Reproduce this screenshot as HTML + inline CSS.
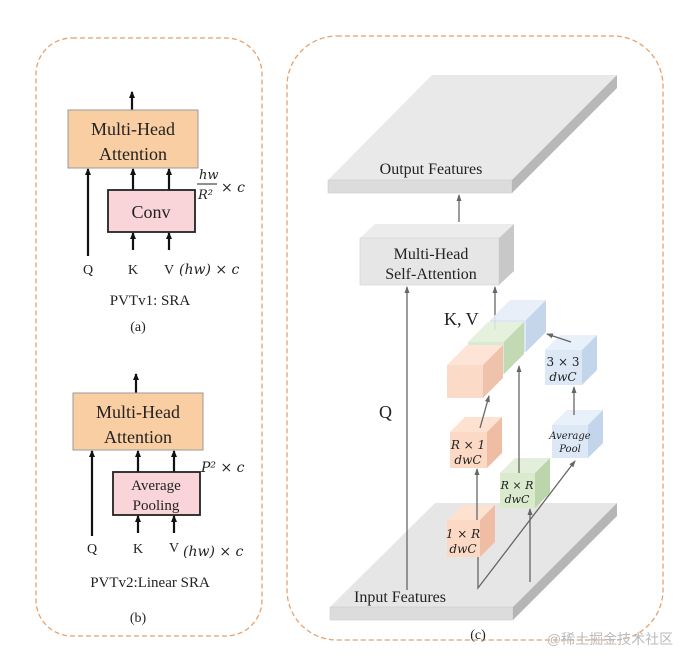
<!DOCTYPE html>
<html><head><meta charset="utf-8"><style>
html,body{margin:0;padding:0;background:#fff;}
svg{display:block;}
text{font-family:"Liberation Serif",serif;fill:#222;}
.m{font-family:"DejaVu Serif","Liberation Serif",serif;font-style:italic;}
</style></head><body>
<svg width="695" height="669" viewBox="0 0 695 669" xmlns="http://www.w3.org/2000/svg">
<defs>
<marker id="ab" markerWidth="7" markerHeight="6" refX="6" refY="3" orient="auto" markerUnits="userSpaceOnUse" viewBox="0 0 7 6"><path d="M0,0 L7,3 L0,6 Z" fill="#111"/></marker>
<marker id="ag" markerWidth="7" markerHeight="6" refX="6" refY="3" orient="auto" markerUnits="userSpaceOnUse" viewBox="0 0 7 6"><path d="M0,0.5 L7,3 L0,5.5 Z" fill="#666"/></marker>
</defs>
<!-- panels -->
<rect x="36" y="38" width="226" height="598" rx="36" fill="none" stroke="#e8a16a" stroke-width="1.3" stroke-dasharray="5,3"/>
<rect x="287" y="36" width="376" height="604" rx="50" fill="none" stroke="#e8a16a" stroke-width="1.3" stroke-dasharray="5,3"/>

<!-- (a) -->
<g stroke="#111" stroke-width="2.2" fill="none">
<line x1="132" y1="110" x2="132" y2="92" marker-end="url(#ab)"/>
<line x1="88" y1="256" x2="88" y2="169" marker-end="url(#ab)"/>
<line x1="133" y1="190" x2="133" y2="169" marker-end="url(#ab)"/>
<line x1="169" y1="190" x2="169" y2="169" marker-end="url(#ab)"/>
<line x1="133" y1="250" x2="133" y2="233" marker-end="url(#ab)"/>
<line x1="169" y1="250" x2="169" y2="233" marker-end="url(#ab)"/>
</g>
<rect x="68" y="110" width="130" height="58" fill="#f9cea3" stroke="#999" stroke-width="1"/>
<text x="133" y="135" font-size="18" text-anchor="middle">Multi-Head</text>
<text x="133" y="160" font-size="18" text-anchor="middle">Attention</text>
<rect x="108" y="190" width="87" height="42" fill="#f9d5da" stroke="#222" stroke-width="1.8"/>
<text x="151" y="218" font-size="18" text-anchor="middle">Conv</text>
<text x="199" y="179" font-size="13" class="m">hw</text>
<line x1="197" y1="184" x2="217" y2="184" stroke="#222" stroke-width="1"/>
<text x="198" y="199" font-size="13" class="m">R²</text>
<text x="221" y="192" font-size="14" class="m">× c</text>
<text x="88" y="274" font-size="14" text-anchor="middle">Q</text>
<text x="133" y="274" font-size="14" text-anchor="middle">K</text>
<text x="169" y="274" font-size="14" text-anchor="middle">V</text>
<text x="179" y="274" font-size="14" class="m">(hw) × c</text>
<text x="150" y="305" font-size="15" text-anchor="middle">PVTv1: SRA</text>
<text x="138" y="331" font-size="14" text-anchor="middle">(a)</text>

<!-- (b) -->
<g stroke="#111" stroke-width="2.2" fill="none">
<line x1="136" y1="393" x2="136" y2="374" marker-end="url(#ab)"/>
<line x1="92" y1="536" x2="92" y2="451" marker-end="url(#ab)"/>
<line x1="138" y1="472" x2="138" y2="451" marker-end="url(#ab)"/>
<line x1="174" y1="472" x2="174" y2="451" marker-end="url(#ab)"/>
<line x1="138" y1="533" x2="138" y2="516" marker-end="url(#ab)"/>
<line x1="174" y1="533" x2="174" y2="516" marker-end="url(#ab)"/>
</g>
<rect x="73" y="393" width="130" height="57" fill="#f9cea3" stroke="#999" stroke-width="1"/>
<text x="138" y="418" font-size="18" text-anchor="middle">Multi-Head</text>
<text x="138" y="443" font-size="18" text-anchor="middle">Attention</text>
<rect x="113" y="472" width="87" height="43" fill="#f9d5da" stroke="#222" stroke-width="1.8"/>
<text x="156" y="490" font-size="15" text-anchor="middle" fill="#444">Average</text>
<text x="156" y="510" font-size="15" text-anchor="middle" fill="#444">Pooling</text>
<text x="201" y="472" font-size="14" class="m">P² × c</text>
<text x="92" y="553" font-size="14" text-anchor="middle">Q</text>
<text x="138" y="553" font-size="14" text-anchor="middle">K</text>
<text x="174" y="552" font-size="14" text-anchor="middle">V</text>
<text x="183" y="556" font-size="14" class="m">(hw) × c</text>
<text x="150" y="587" font-size="15" text-anchor="middle">PVTv2:Linear SRA</text>
<text x="138" y="622" font-size="14" text-anchor="middle">(b)</text>

<!-- (c) planes -->
<polygon points="328,180 432,75 617,75 512,180" fill="#e9e9ea"/>
<rect x="328" y="180" width="184" height="13" fill="#dcdcdc" stroke="#ccc" stroke-width="0.6"/>
<polygon points="512,180 617,75 617,88 512,193" fill="#b8b8b8"/>
<text x="431" y="174" font-size="16" text-anchor="middle">Output Features</text>

<polygon points="330,607 435,503 617,503 513,607" fill="#e6e6e7"/>
<rect x="330" y="607" width="183" height="13" fill="#dcdcdc" stroke="#ccc" stroke-width="0.6"/>
<polygon points="513,607 617,503 617,516 513,620" fill="#b5b5b5"/>
<text x="400" y="602" font-size="16" text-anchor="middle">Input Features</text>

<polygon points="360,238 375,224 514,224 499,238" fill="#ececec"/>
<rect x="360" y="238" width="139" height="47" fill="#e6e6e6" stroke="#d0d0d0" stroke-width="0.6"/>
<polygon points="499,238 514,224 514,271 499,285" fill="#c8c8c8"/>
<text x="431" y="259" font-size="16" text-anchor="middle">Multi-Head</text>
<text x="431" y="279" font-size="16" text-anchor="middle">Self-Attention</text>

<g stroke="#666" stroke-width="1.3" fill="none">
<line x1="459" y1="222" x2="459" y2="195" marker-end="url(#ag)"/>
<line x1="407" y1="590" x2="407" y2="287" marker-end="url(#ag)"/>
<line x1="495" y1="330" x2="495" y2="287" marker-end="url(#ag)"/>
<polyline points="478,557 478,588 575,461" marker-end="url(#ag)"/>
<line x1="530" y1="582" x2="530" y2="509" marker-end="url(#ag)"/>
</g>
<text x="379" y="418" font-size="18">Q</text>

<!-- KV block -->
<g opacity="0.9">
<polygon points="490,320 510,300 546,300 526,320" fill="#e6eef8"/>
<rect x="490" y="320" width="36" height="32" fill="#d9e5f3"/>
<polygon points="526,320 546,300 546,332 526,352" fill="#bfd2e8"/>
<polygon points="468,342 488,322 524,322 504,342" fill="#e3efda"/>
<rect x="468" y="342" width="36" height="32" fill="#d7e8cb"/>
<polygon points="504,342 524,322 524,354 504,374" fill="#bcd5ab"/>
<polygon points="447,365 467,345 503,345 483,365" fill="#fde2d2"/>
<rect x="447" y="365" width="36" height="33" fill="#fbd7c2"/>
<polygon points="483,365 503,345 503,378 483,398" fill="#eebda3"/>
</g>
<text x="444" y="325" font-size="18">K, V</text>

<!-- small cubes -->
<polygon points="545,350 560,335 597,335 582,350" fill="#e8f0f9"/>
<rect x="545" y="350" width="37" height="35" fill="#dce8f5"/>
<polygon points="582,350 597,335 597,370 582,385" fill="#c2d5ea"/>
<text x="563" y="366" font-size="12" text-anchor="middle" class="m" style="font-style:normal">3 × 3</text>
<text x="563" y="381" font-size="12" text-anchor="middle" class="m">dwC</text>

<polygon points="552,425 567,410 603,410 588,425" fill="#e8f0f9"/>
<rect x="552" y="425" width="36" height="33" fill="#dce8f5"/>
<polygon points="588,425 603,410 603,443 588,458" fill="#c2d5ea"/>
<text x="570" y="439" font-size="10" text-anchor="middle" class="m">Average</text>
<text x="570" y="452" font-size="10" text-anchor="middle" class="m">Pool</text>

<polygon points="450,432 465,417 502,417 487,432" fill="#fde2d2"/>
<rect x="450" y="432" width="37" height="36" fill="#fbd9c4"/>
<polygon points="487,432 502,417 502,453 487,468" fill="#eebda3"/>
<text x="468" y="449" font-size="12" text-anchor="middle" class="m">R × 1</text>
<text x="468" y="464" font-size="12" text-anchor="middle" class="m">dwC</text>

<polygon points="500,473 515,458 550,458 535,473" fill="#e3efda"/>
<rect x="500" y="473" width="35" height="35" fill="#d9eacd"/>
<polygon points="535,473 550,458 550,493 535,508" fill="#bcd5ab"/>
<text x="517" y="489" font-size="11" text-anchor="middle" class="m">R × R</text>
<text x="517" y="503" font-size="11" text-anchor="middle" class="m">dwC</text>

<polygon points="447,520 462,505 495,505 480,520" fill="#fde2d2"/>
<rect x="447" y="520" width="33" height="37" fill="#fbd9c4"/>
<polygon points="480,520 495,505 495,542 480,557" fill="#eebda3"/>
<text x="463" y="538" font-size="12" text-anchor="middle" class="m">1 × R</text>
<text x="463" y="553" font-size="12" text-anchor="middle" class="m">dwC</text>

<g stroke="#666" stroke-width="1.3" fill="none">
<line x1="477" y1="520" x2="477" y2="469" marker-end="url(#ag)"/>
<line x1="480" y1="428" x2="489" y2="396" marker-end="url(#ag)"/>
<line x1="519" y1="473" x2="519" y2="366" marker-end="url(#ag)"/>
<line x1="574" y1="415" x2="574" y2="387" marker-end="url(#ag)"/>
<line x1="571" y1="342" x2="547" y2="334" marker-end="url(#ag)"/>
</g>

<text x="478" y="639" font-size="14" text-anchor="middle">(c)</text>
<text x="610" y="644" font-size="14" text-anchor="middle" style="font-family:'Liberation Sans','Noto Sans CJK SC',sans-serif;fill:#bbb">@稀土掘金技术社区</text>
</svg>
</body></html>
